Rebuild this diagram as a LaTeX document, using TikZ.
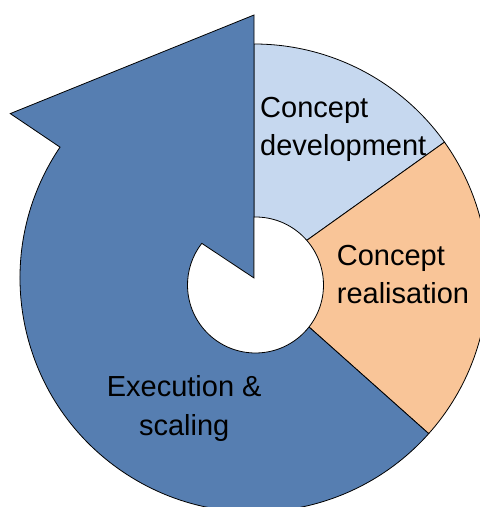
\documentclass[tikz,border=0pt]{standalone}
\usepackage{fontspec}
\setmainfont{Liberation Sans}
\usepackage{tikz}
\usetikzlibrary{calc}
\definecolor{ArrowBlue}{RGB}{86,126,177}
\definecolor{DevBlue}{RGB}{198,216,239}
\definecolor{RealPeach}{RGB}{249,197,152}

\begin{document}
\begin{tikzpicture}[
    x=1pt,y=1pt,
    every node/.style={font=\fontsize{29}{38.4}\selectfont,inner sep=0pt},
    segLine/.style={draw=black,line width=0.8pt},
    blockArrow/.style={segLine,fill=ArrowBlue},
    devPart/.style={segLine,fill=DevBlue},
    realPart/.style={segLine,fill=RealPeach},
    holePart/.style={segLine,fill=white}]
  \clip (0,0) rectangle (480,507);
  \coordinate (O) at (254,229);
  \coordinate (I) at (255.5,222);
  \coordinate (tip) at ($(O)+(90:263pt)$);
  \coordinate (barb) at ($(O)+(146:294pt)$);
  \coordinate (notch) at ($(O)+(146:234pt)$);
  % stage wedges, the hole is cut out afterwards
  \path[devPart] (O) -- ++(90:234pt) arc[start angle=90,end angle=35.5,radius=234pt] -- cycle;
  \path[realPart] (O) -- ++(35.5:234pt) arc[start angle=35.5,end angle=-41.7,radius=234pt] -- cycle;
  \path[blockArrow] (tip) -- (barb) -- (notch) arc[start angle=146,end angle=318.3,radius=234pt] -- (O) -- cycle;
  \path[holePart] (O) -- ($(I)+(91.3:68pt)$) arc[start angle=91.3,end angle=-217.8,radius=68pt] -- cycle;
  \node[anchor=north west,align=left] (dev) at (260,410) {Concept\\development};
  \node[anchor=north west,align=left] (real) at (336.7,262) {Concept\\realisation};
  \node[anchor=north,align=center] (exec) at (184.2,131.5) {Execution \&\\scaling};
\end{tikzpicture}
\end{document}
